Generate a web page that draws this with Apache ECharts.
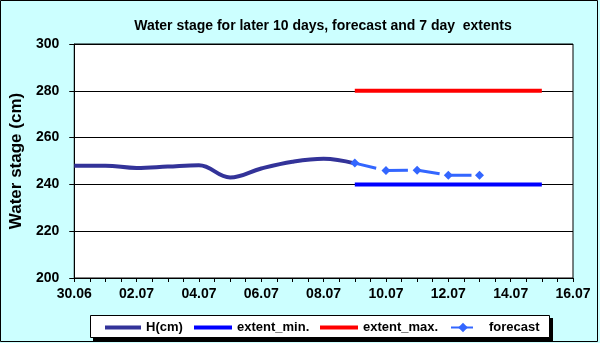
<!DOCTYPE html>
<html>
<head>
<meta charset="utf-8">
<script src="https://cdn.jsdelivr.net/npm/echarts@6/dist/echarts.min.js"></script>
<style>html,body{margin:0;padding:0;background:#ccffff;}#c{width:600px;height:343px;}</style>
</head>
<body>
<div id="c"></div>
<script>
// Days counted from 30.06 (day 0)
var tickLabels = ['30.06','02.07','04.07','06.07','08.07','10.07','12.07','14.07','16.07'];
var hDays = [0,1,2,3,4,5,6,7,8,9];
var hValues = [248,248,247,247.6,248.2,243,246.8,249.7,251,249];
var forecastDays = [9,10,11,12,13];
var forecastValues = [249.1,245.9,246.1,243.9,243.9];
var extentDays = [9,15];
var extentMin = [240,240];
var extentMax = [280,280];

function pairs(xs, ys){ return xs.map(function(x,i){ return [x, ys[i]]; }); }

var font = 'Arial, "Liberation Sans", sans-serif';
var chart = echarts.init(document.getElementById('c'), null, {renderer:'canvas'});

function legendAt(name, left, itemWidth, itemHeight, icon, pad){
  var d = icon ? {name:name, icon:icon} : {name:name};
  return {
    data:[d], left:left, top:320, itemWidth:itemWidth, itemHeight:itemHeight,
    padding:0, itemGap:0,
    textStyle:{fontFamily:font, fontWeight:'bold', fontSize:13, lineHeight:15, color:'#000', padding:[0,0,0,pad||0]}
  };
}

chart.setOption({
  backgroundColor:'#ccffff',
  animation:false,
  title:{
    text:'Water stage for later 10 days, forecast and 7 day  extents',
    left:318, top:14, textAlign:'center',
    textStyle:{fontFamily:font, fontWeight:'bold', fontSize:14, color:'#000'}
  },
  grid:{left:67, right:27, top:44, bottom:65, show:true, backgroundColor:'#fff', borderColor:'#000', borderWidth:1},
  graphic:[
    {type:'rect', shape:{x:0.5,y:0.5,width:597,height:341}, style:{fill:null, stroke:'#000', lineWidth:1}, z:-1, silent:true},
    {type:'rect', shape:{x:93,y:318,width:460,height:23}, style:{fill:'#000'}, z:1, silent:true},
    {type:'rect', shape:{x:90.5,y:315.5,width:459,height:22}, style:{fill:'#fff', stroke:'#000', lineWidth:1}, z:2, silent:true}
  ],
  legend:[
    legendAt('H(cm)', 105, 36, 4, 'rect'),
    legendAt('extent_min.', 194, 38, 4, 'rect'),
    legendAt('extent_max.', 320, 38, 4, 'rect'),
    legendAt('forecast', 450, 24, 12, null, 9)
  ],
  xAxis:{
    type:'value', min:0, max:16, interval:0.5,
    axisLine:{lineStyle:{color:'#000', width:1}},
    axisTick:{show:true, length:4, lineStyle:{color:'#000'}},
    splitLine:{show:false},
    axisLabel:{
      margin:9, fontFamily:font, fontWeight:'bold', fontSize:14, color:'#000',
      formatter:function(v){ return (v % 2 === 0) ? tickLabels[v/2] : ''; }
    }
  },
  yAxis:{
    type:'value', min:200, max:300, interval:20,
    name:'Water stage (cm)', nameLocation:'middle', nameGap:46,
    nameTextStyle:{fontFamily:font, fontWeight:'bold', fontSize:17, color:'#000'},
    axisLine:{show:true, lineStyle:{color:'#000'}},
    axisTick:{show:true, length:5, lineStyle:{color:'#000'}},
    splitLine:{lineStyle:{color:'#000', width:1}},
    axisLabel:{margin:15, fontFamily:font, fontWeight:'bold', fontSize:14, color:'#000'}
  },
  series:[
    {name:'H(cm)', type:'line', data:pairs(hDays,hValues), smooth:0.4, showSymbol:false, symbol:'none',
     lineStyle:{color:'#333399', width:4}, itemStyle:{color:'#333399'}, z:3},
    {name:'extent_min.', type:'line', data:pairs(extentDays,extentMin), showSymbol:false, symbol:'none',
     lineStyle:{color:'#0000ff', width:4}, itemStyle:{color:'#0000ff'}, z:2},
    {name:'extent_max.', type:'line', data:pairs(extentDays,extentMax), showSymbol:false, symbol:'none',
     lineStyle:{color:'#ff0000', width:4}, itemStyle:{color:'#ff0000'}, z:2},
    {name:'forecast', type:'line', data:pairs(forecastDays,forecastValues), symbol:'diamond', symbolSize:9, showSymbol:true,
     lineStyle:{color:'#3366ff', width:3, type:[22,10]}, itemStyle:{color:'#3366ff', borderWidth:0}, z:4}
  ]
});
</script>
</body>
</html>
